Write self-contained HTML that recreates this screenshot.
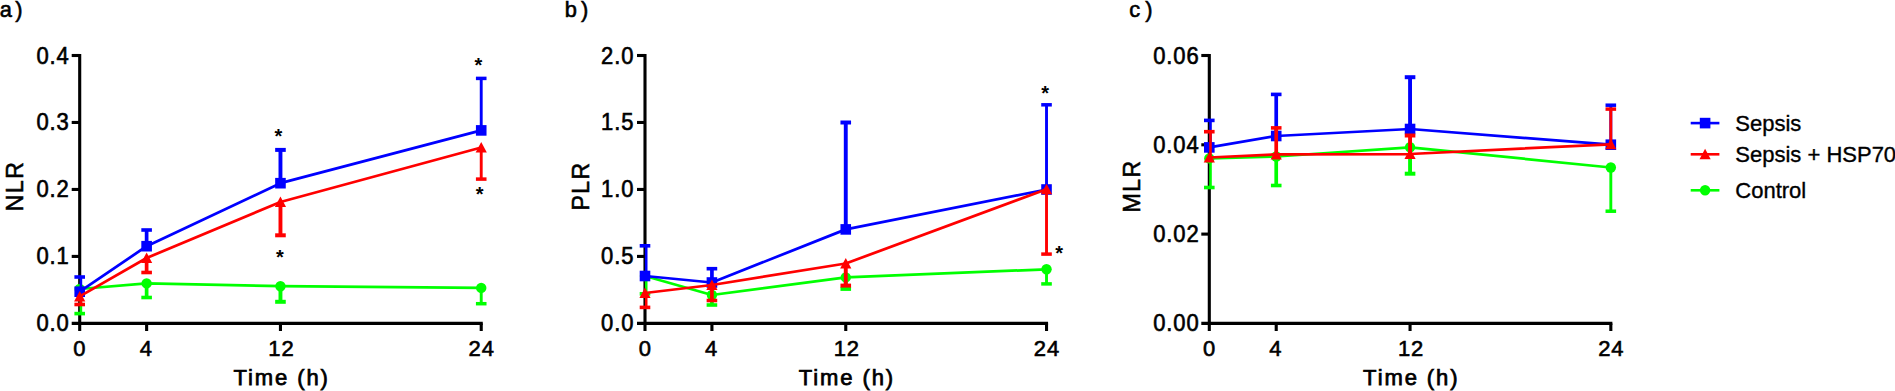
<!DOCTYPE html>
<html lang="en"><head><meta charset="utf-8"><title>NLR, PLR, MLR over time</title>
<style>
html,body{margin:0;padding:0;background:#fff;}
body{width:1895px;height:391px;overflow:hidden;}
svg{display:block;font-family:"Liberation Sans", Arial, sans-serif;}
</style></head><body>
<svg width="1895" height="391" viewBox="0 0 1895 391">
<rect width="1895" height="391" fill="#fff"/>
<g>
<g stroke="#000" stroke-width="3.1" fill="none" stroke-linecap="butt">
<path d="M79.7,53.95 V331"/>
<path d="M71.7,323.4 H482.77"/>
<path d="M71.7,256.42 H79.7"/>
<path d="M71.7,189.45 H79.7"/>
<path d="M71.7,122.47 H79.7"/>
<path d="M71.7,55.5 H79.7"/>
<path d="M146.62,323.4 V331"/>
<path d="M280.46,323.4 V331"/>
<path d="M481.22,323.4 V331"/>
</g>
<g font-size="22" letter-spacing="0.9" fill="#000" stroke="#000" stroke-width="0.6">
<text transform="translate(69.7,331.4) scale(1,1.08)" text-anchor="end">0.0</text>
<text transform="translate(69.7,264.42) scale(1,1.08)" text-anchor="end">0.1</text>
<text transform="translate(69.7,197.45) scale(1,1.08)" text-anchor="end">0.2</text>
<text transform="translate(69.7,130.47) scale(1,1.08)" text-anchor="end">0.3</text>
<text transform="translate(69.7,63.5) scale(1,1.08)" text-anchor="end">0.4</text>
<text transform="translate(79.9,356.1) scale(1,1.035)" text-anchor="middle">0</text>
<text transform="translate(146.22,356.1) scale(1,1.035)" text-anchor="middle">4</text>
<text transform="translate(281.46,356.1) scale(1,1.035)" text-anchor="middle">12</text>
<text transform="translate(481.67,356.1) scale(1,1.035)" text-anchor="middle">24</text>
</g>
<g font-size="22" letter-spacing="1.9" fill="#000" stroke="#000" stroke-width="0.75">
<text x="281.66" y="385" text-anchor="middle">Time (h)</text>
<text transform="translate(22.8,186.8) rotate(-90)" text-anchor="middle" x="0.6" font-size="23.5" letter-spacing="1.2" stroke-width="0.55">NLR</text>
<text x="-0.3" y="17" stroke-width="0.6" font-size="21.8">a<tspan x="15.2">)</tspan></text>
</g>
<g stroke="#00ff00" stroke-width="2.75" fill="none">
<path d="M80.9,289 V313.6" stroke-width="2.6"/>
<path d="M74.4,313.6 H85" stroke-width="3.6"/>
<path d="M146.62,283.4 V297.5" stroke-width="3.7"/>
<path d="M141.32,297.5 H151.92" stroke-width="3.6"/>
<path d="M280.46,286.2 V301.8" stroke-width="3.9"/>
<path d="M275.16,301.8 H285.76" stroke-width="4"/>
<path d="M481.22,287.9 V303.7" stroke-width="2.9"/>
<path d="M475.92,303.7 H486.52" stroke-width="3.5"/>
<polyline stroke-linejoin="round" points="79.7,289 146.62,283.4 280.46,286.2 481.22,287.9"/>
</g>
<circle cx="79.7" cy="289" r="5.2" fill="#00ff00"/>
<circle cx="146.62" cy="283.4" r="5.2" fill="#00ff00"/>
<circle cx="280.46" cy="286.2" r="5.2" fill="#00ff00"/>
<circle cx="481.22" cy="287.9" r="5.2" fill="#00ff00"/>
<g stroke="#0000ff" stroke-width="2.75" fill="none">
<path d="M80.9,291.7 V277" stroke-width="2.6"/>
<path d="M74.4,277 H85" stroke-width="3.6"/>
<path d="M146.62,246.2 V230" stroke-width="3.7"/>
<path d="M141.32,230 H151.92" stroke-width="3.6"/>
<path d="M280.46,183.2 V149.9" stroke-width="3.9"/>
<path d="M275.16,149.9 H285.76" stroke-width="4"/>
<path d="M481.22,130.4 V78.4" stroke-width="2.9"/>
<path d="M475.92,78.4 H486.52" stroke-width="3.5"/>
<polyline stroke-linejoin="round" points="79.7,291.7 146.62,246.2 280.46,183.2 481.22,130.4"/>
</g>
<rect x="74.4" y="286.4" width="10.6" height="10.6" fill="#0000ff"/>
<rect x="141.32" y="240.9" width="10.6" height="10.6" fill="#0000ff"/>
<rect x="275.16" y="177.9" width="10.6" height="10.6" fill="#0000ff"/>
<rect x="475.92" y="125.1" width="10.6" height="10.6" fill="#0000ff"/>
<g stroke="#ff0000" stroke-width="2.75" fill="none">
<path d="M80.9,296.4 V304.5" stroke-width="2.6"/>
<path d="M74.4,304.5 H85" stroke-width="3.6"/>
<path d="M146.62,258 V272.5" stroke-width="3.7"/>
<path d="M141.32,272.5 H151.92" stroke-width="3.6"/>
<path d="M280.46,202 V235.3" stroke-width="3.9"/>
<path d="M275.16,235.3 H285.76" stroke-width="4"/>
<path d="M481.22,147.5 V179.1" stroke-width="2.9"/>
<path d="M475.92,179.1 H486.52" stroke-width="3.5"/>
<polyline stroke-linejoin="round" points="79.7,296.4 146.62,258 280.46,202 481.22,147.5"/>
</g>
<polygon points="79.7,290.9 74.1,301.4 85.3,301.4" fill="#ff0000"/>
<polygon points="146.62,252.5 141.02,263 152.22,263" fill="#ff0000"/>
<polygon points="280.46,196.5 274.86,207 286.06,207" fill="#ff0000"/>
<polygon points="481.22,142 475.62,152.5 486.82,152.5" fill="#ff0000"/>
<text x="278.4" y="143" font-size="20" font-weight="bold" text-anchor="middle">*</text>
<text x="280" y="263.7" font-size="20" font-weight="bold" text-anchor="middle">*</text>
<text x="478.4" y="72.1" font-size="20" font-weight="bold" text-anchor="middle">*</text>
<text x="479.6" y="201.2" font-size="20" font-weight="bold" text-anchor="middle">*</text>
</g>
<g>
<g stroke="#000" stroke-width="3.1" fill="none" stroke-linecap="butt">
<path d="M645,53.95 V331"/>
<path d="M637,323.4 H1048.07"/>
<path d="M637,256.42 H645"/>
<path d="M637,189.45 H645"/>
<path d="M637,122.47 H645"/>
<path d="M637,55.5 H645"/>
<path d="M711.92,323.4 V331"/>
<path d="M845.76,323.4 V331"/>
<path d="M1046.52,323.4 V331"/>
</g>
<g font-size="22" letter-spacing="0.9" fill="#000" stroke="#000" stroke-width="0.6">
<text transform="translate(634.3,331.4) scale(1,1.08)" text-anchor="end">0.0</text>
<text transform="translate(634.3,264.42) scale(1,1.08)" text-anchor="end">0.5</text>
<text transform="translate(634.3,197.45) scale(1,1.08)" text-anchor="end">1.0</text>
<text transform="translate(634.3,130.47) scale(1,1.08)" text-anchor="end">1.5</text>
<text transform="translate(634.3,63.5) scale(1,1.08)" text-anchor="end">2.0</text>
<text transform="translate(645.2,356.1) scale(1,1.035)" text-anchor="middle">0</text>
<text transform="translate(711.52,356.1) scale(1,1.035)" text-anchor="middle">4</text>
<text transform="translate(846.76,356.1) scale(1,1.035)" text-anchor="middle">12</text>
<text transform="translate(1046.97,356.1) scale(1,1.035)" text-anchor="middle">24</text>
</g>
<g font-size="22" letter-spacing="1.9" fill="#000" stroke="#000" stroke-width="0.75">
<text x="846.96" y="385" text-anchor="middle">Time (h)</text>
<text transform="translate(588.5,186.8) rotate(-90)" text-anchor="middle" x="0.6" font-size="23.5" letter-spacing="1.2" stroke-width="0.55">PLR</text>
<text x="564.8" y="17" stroke-width="0.6" font-size="21.8">b<tspan x="581">)</tspan></text>
</g>
<g stroke="#00ff00" stroke-width="2.75" fill="none">
<path d="M646.2,276 V293.8" stroke-width="2.6"/>
<path d="M639.7,293.8 H650.3" stroke-width="3.6"/>
<path d="M711.92,295 V305" stroke-width="3.7"/>
<path d="M706.62,305 H717.22" stroke-width="3.6"/>
<path d="M845.76,277.4 V288.9" stroke-width="3.9"/>
<path d="M840.46,288.9 H851.06" stroke-width="4"/>
<path d="M1046.52,269.3 V283.9" stroke-width="2.9"/>
<path d="M1041.22,283.9 H1051.82" stroke-width="3.5"/>
<polyline stroke-linejoin="round" points="645,276 711.92,295 845.76,277.4 1046.52,269.3"/>
</g>
<circle cx="645" cy="276" r="5.2" fill="#00ff00"/>
<circle cx="711.92" cy="295" r="5.2" fill="#00ff00"/>
<circle cx="845.76" cy="277.4" r="5.2" fill="#00ff00"/>
<circle cx="1046.52" cy="269.3" r="5.2" fill="#00ff00"/>
<g stroke="#0000ff" stroke-width="2.75" fill="none">
<path d="M646.2,276 V245.8" stroke-width="2.6"/>
<path d="M639.7,245.8 H650.3" stroke-width="3.6"/>
<path d="M711.92,282.5 V268.7" stroke-width="3.7"/>
<path d="M706.62,268.7 H717.22" stroke-width="3.6"/>
<path d="M845.76,229.4 V122.5" stroke-width="3.9"/>
<path d="M840.46,122.5 H851.06" stroke-width="4"/>
<path d="M1046.52,189.5 V104.8" stroke-width="2.9"/>
<path d="M1041.22,104.8 H1051.82" stroke-width="3.5"/>
<polyline stroke-linejoin="round" points="645,276 711.92,282.5 845.76,229.4 1046.52,189.5"/>
</g>
<rect x="639.7" y="270.7" width="10.6" height="10.6" fill="#0000ff"/>
<rect x="706.62" y="277.2" width="10.6" height="10.6" fill="#0000ff"/>
<rect x="840.46" y="224.1" width="10.6" height="10.6" fill="#0000ff"/>
<rect x="1041.22" y="184.2" width="10.6" height="10.6" fill="#0000ff"/>
<g stroke="#ff0000" stroke-width="2.75" fill="none">
<path d="M646.2,293 V307.4" stroke-width="2.6"/>
<path d="M639.7,307.4 H650.3" stroke-width="3.6"/>
<path d="M711.92,285 V300.5" stroke-width="3.7"/>
<path d="M706.62,300.5 H717.22" stroke-width="3.6"/>
<path d="M845.76,263.5 V285.6" stroke-width="3.9"/>
<path d="M840.46,285.6 H851.06" stroke-width="4"/>
<path d="M1046.52,189.3 V254.1" stroke-width="2.9"/>
<path d="M1041.22,254.1 H1051.82" stroke-width="3.5"/>
<polyline stroke-linejoin="round" points="645,293 711.92,285 845.76,263.5 1046.52,189.3"/>
</g>
<polygon points="645,287.5 639.4,298 650.6,298" fill="#ff0000"/>
<polygon points="711.92,279.5 706.32,290 717.52,290" fill="#ff0000"/>
<polygon points="845.76,258 840.16,268.5 851.36,268.5" fill="#ff0000"/>
<polygon points="1046.52,183.8 1040.92,194.3 1052.12,194.3" fill="#ff0000"/>
<text x="1045.1" y="99.7" font-size="20" font-weight="bold" text-anchor="middle">*</text>
<text x="1059.1" y="260.1" font-size="20" font-weight="bold" text-anchor="middle">*</text>
</g>
<g>
<g stroke="#000" stroke-width="3.1" fill="none" stroke-linecap="butt">
<path d="M1209.3,53.95 V331"/>
<path d="M1201.3,323.4 H1612.37"/>
<path d="M1201.3,234.1 H1209.3"/>
<path d="M1201.3,144.8 H1209.3"/>
<path d="M1201.3,55.5 H1209.3"/>
<path d="M1276.22,323.4 V331"/>
<path d="M1410.06,323.4 V331"/>
<path d="M1610.82,323.4 V331"/>
</g>
<g font-size="22" letter-spacing="0.9" fill="#000" stroke="#000" stroke-width="0.6">
<text transform="translate(1199.6,331.4) scale(1,1.08)" text-anchor="end">0.00</text>
<text transform="translate(1199.6,242.1) scale(1,1.08)" text-anchor="end">0.02</text>
<text transform="translate(1199.6,152.8) scale(1,1.08)" text-anchor="end">0.04</text>
<text transform="translate(1199.6,63.5) scale(1,1.08)" text-anchor="end">0.06</text>
<text transform="translate(1209.5,356.1) scale(1,1.035)" text-anchor="middle">0</text>
<text transform="translate(1275.82,356.1) scale(1,1.035)" text-anchor="middle">4</text>
<text transform="translate(1411.06,356.1) scale(1,1.035)" text-anchor="middle">12</text>
<text transform="translate(1611.27,356.1) scale(1,1.035)" text-anchor="middle">24</text>
</g>
<g font-size="22" letter-spacing="1.9" fill="#000" stroke="#000" stroke-width="0.75">
<text x="1411.26" y="385" text-anchor="middle">Time (h)</text>
<text transform="translate(1140,186.8) rotate(-90)" text-anchor="middle" x="0.6" font-size="23.5" letter-spacing="1.2" stroke-width="0.55">MLR</text>
<text x="1129.2" y="17" stroke-width="0.6" font-size="21.8">c<tspan x="1145.2">)</tspan></text>
</g>
<g stroke="#00ff00" stroke-width="2.75" fill="none">
<path d="M1210.5,158.4 V187.5" stroke-width="2.6"/>
<path d="M1204,187.5 H1214.6" stroke-width="3.6"/>
<path d="M1276.22,156.5 V185.5" stroke-width="3.7"/>
<path d="M1270.92,185.5 H1281.52" stroke-width="3.6"/>
<path d="M1410.06,147.3 V173.7" stroke-width="3.9"/>
<path d="M1404.76,173.7 H1415.36" stroke-width="4"/>
<path d="M1610.82,167.5 V211.2" stroke-width="2.9"/>
<path d="M1605.52,211.2 H1616.12" stroke-width="3.5"/>
<polyline stroke-linejoin="round" points="1209.3,158.4 1276.22,156.5 1410.06,147.3 1610.82,167.5"/>
</g>
<circle cx="1209.3" cy="158.4" r="5.2" fill="#00ff00"/>
<circle cx="1276.22" cy="156.5" r="5.2" fill="#00ff00"/>
<circle cx="1410.06" cy="147.3" r="5.2" fill="#00ff00"/>
<circle cx="1610.82" cy="167.5" r="5.2" fill="#00ff00"/>
<g stroke="#0000ff" stroke-width="2.75" fill="none">
<path d="M1210.5,147.4 V120.4" stroke-width="2.6"/>
<path d="M1204,120.4 H1214.6" stroke-width="3.6"/>
<path d="M1276.22,136 V94.4" stroke-width="3.7"/>
<path d="M1270.92,94.4 H1281.52" stroke-width="3.6"/>
<path d="M1410.06,129 V77.2" stroke-width="3.9"/>
<path d="M1404.76,77.2 H1415.36" stroke-width="4"/>
<path d="M1610.82,144.7 V105.2" stroke-width="2.9"/>
<path d="M1605.52,105.2 H1616.12" stroke-width="3.5"/>
<polyline stroke-linejoin="round" points="1209.3,147.4 1276.22,136 1410.06,129 1610.82,144.7"/>
</g>
<rect x="1204" y="142.1" width="10.6" height="10.6" fill="#0000ff"/>
<rect x="1270.92" y="130.7" width="10.6" height="10.6" fill="#0000ff"/>
<rect x="1404.76" y="123.7" width="10.6" height="10.6" fill="#0000ff"/>
<rect x="1605.52" y="139.4" width="10.6" height="10.6" fill="#0000ff"/>
<g stroke="#ff0000" stroke-width="2.75" fill="none">
<path d="M1210.5,157.5 V131.7" stroke-width="2.6"/>
<path d="M1204,131.7 H1214.6" stroke-width="3.6"/>
<path d="M1276.22,154.4 V127.9" stroke-width="3.7"/>
<path d="M1270.92,127.9 H1281.52" stroke-width="3.6"/>
<path d="M1410.06,154 V135.5" stroke-width="3.9"/>
<path d="M1404.76,135.5 H1415.36" stroke-width="4"/>
<path d="M1610.82,144.3 V109.1" stroke-width="2.9"/>
<path d="M1605.52,109.1 H1616.12" stroke-width="3.5"/>
<polyline stroke-linejoin="round" points="1209.3,157.5 1276.22,154.4 1410.06,154 1610.82,144.3"/>
</g>
<polygon points="1209.3,152 1203.7,162.5 1214.9,162.5" fill="#ff0000"/>
<polygon points="1276.22,148.9 1270.62,159.4 1281.82,159.4" fill="#ff0000"/>
<polygon points="1410.06,148.5 1404.46,159 1415.66,159" fill="#ff0000"/>
<polygon points="1610.82,138.8 1605.22,149.3 1616.42,149.3" fill="#ff0000"/>
</g>
<g>
<path d="M1690.7,123.1 H1719.4" stroke="#0000ff" stroke-width="2.6"/>
<rect x="1699.8" y="117.8" width="10.6" height="10.6" fill="#0000ff"/>
<text x="1735.3" y="130.7" font-size="22" stroke="#000" stroke-width="0.35">Sepsis</text>
<path d="M1690.7,154.3 H1719.4" stroke="#ff0000" stroke-width="2.6"/>
<polygon points="1705.1,148.8 1699.5,159.3 1710.7,159.3" fill="#ff0000"/>
<text x="1735.3" y="161.6" font-size="22" stroke="#000" stroke-width="0.35">Sepsis + HSP70</text>
<path d="M1690.7,190.3 H1719.4" stroke="#00ff00" stroke-width="2.6"/>
<circle cx="1705.1" cy="190.3" r="5.2" fill="#00ff00"/>
<text x="1735.3" y="198.2" font-size="22" stroke="#000" stroke-width="0.35">Control</text>
</g>
</svg>
</body></html>
